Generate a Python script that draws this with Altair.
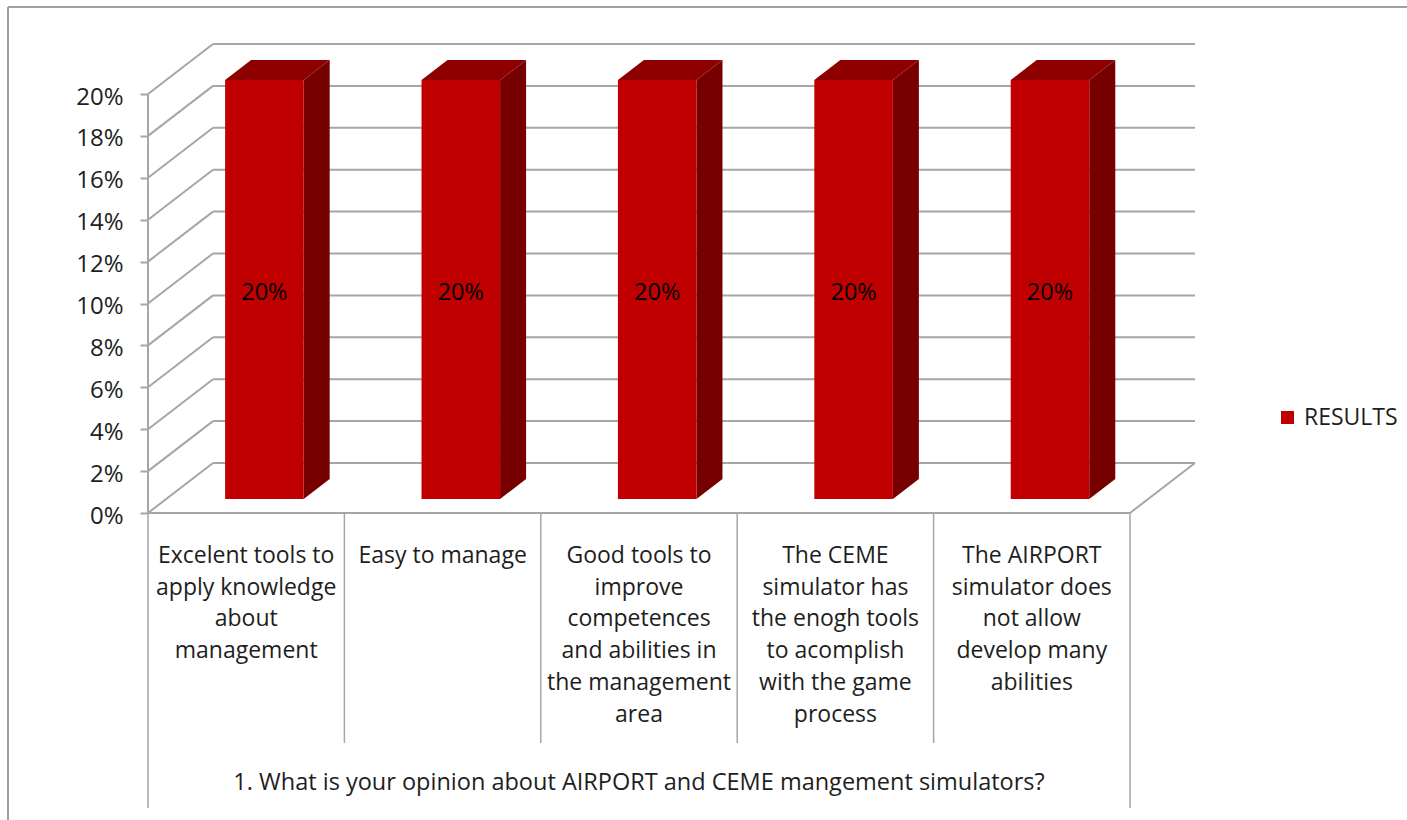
import altair as alt
import pandas as pd

# ---------------- data ----------------
categories = [
    "Excelent tools to\napply knowledge\nabout\nmanagement",
    "Easy to manage",
    "Good tools to\nimprove\ncompetences\nand abilities in\nthe management\narea",
    "The CEME\nsimulator has\nthe enogh tools\nto acomplish\nwith the game\nprocess",
    "The AIRPORT\nsimulator does\nnot allow\ndevelop many\nabilities",
]
values = [20, 20, 20, 20, 20]
series_name = "RESULTS"
y_ticks = [0, 2, 4, 6, 8, 10, 12, 14, 16, 18, 20]
axis_title = "1. What is your opinion about AIRPORT and CEME mangement simulators?"

# ---------------- geometry (data units) ----------------
N = len(categories)
PX_X = 196.4
PX_Y = 20.95
W, H = 1047, 469
XMAX = W / PX_X
YMAX = H / PX_Y
DX = 65 / PX_X
DY = 50 / PX_Y
F1, F2 = 0.28, 0.68
HALF = 0.2

FONT = "Open Sans"
FS_CAT = 23
FS_BIG = 23.5
GRAY = "#A6A6A6"
TXT = "#1e1e1e"

xs = alt.Scale(domain=[0, XMAX], nice=False, zero=False)
ys = alt.Scale(domain=[0, YMAX], nice=False, zero=False)

rows = []
for v in y_ticks:
    rows.append(dict(x=0, y=v, x2=DX, y2=v + DY))
    rows.append(dict(x=DX, y=v + DY, x2=N + DX, y2=v + DY))
rows.append(dict(x=0, y=0, x2=N, y2=0))
rows.append(dict(x=N, y=0, x2=N + DX, y2=DY))
rows.append(dict(x=0, y=0, x2=0, y2=max(y_ticks)))
walls = pd.DataFrame(rows)

front, side, top, lab = [], [], [], []
for i, (c, v) in enumerate(zip(categories, values)):
    xl = i + 0.5 - HALF
    xr = i + 0.5 + HALF
    front.append(dict(x=xl + F1 * DX, x2=xr + F1 * DX, y=F1 * DY, y2=v + F1 * DY, s=series_name))
    for f in (F1, F2):
        side.append(dict(b=i, x=xr + f * DX, y=f * DY, y2=v + f * DY))
        top.append(dict(b=i, y=v + f * DY, x=xl + f * DX, x2=xr + f * DX))
    lab.append(dict(x=i + 0.5 + F1 * DX, y=v / 2 + F1 * DY - 0.15, t=f"{v}%"))
front, side, top, lab = map(pd.DataFrame, (front, side, top, lab))

Y_LAB = -(545 - 513) / PX_Y
cat_df = pd.DataFrame({"x": [i + 0.5 for i in range(N)], "y": [Y_LAB] * N, "t": categories})

Y_IN = -(743 - 513) / PX_Y
Y_OUT = -(808 - 513) / PX_Y
div = pd.DataFrame({"x": list(range(N + 1)),
                    "y": [0] * (N + 1),
                    "y2": [Y_OUT] + [Y_IN] * (N - 1) + [Y_OUT]})

title_df = pd.DataFrame({"x": [N / 2], "y": [-(783 - 513) / PX_Y], "t": [axis_title]})

FX = (8 - 148) / PX_X
FY = (513 - 7) / PX_Y
frame = pd.DataFrame([
    dict(x=FX, y=FY, x2=(1407 - 148) / PX_X, y2=FY),
    dict(x=FX, y=FY, x2=FX, y2=-(820 - 513) / PX_Y),
])

yaxis = alt.Axis(
    values=y_ticks, labelExpr="datum.value + '%'", title=None,
    domain=False, grid=False, ticks=True, tickSize=8, tickWidth=2, tickColor=GRAY,
    labelFont=FONT, labelFontSize=24, labelColor=TXT, labelPadding=17, labelOffset=3,
)

def X(f="x"):
    return alt.X(f"{f}:Q", scale=xs, axis=None)

def Y(f="y"):
    return alt.Y(f"{f}:Q", scale=ys, axis=yaxis)

wall_layer = alt.Chart(walls).mark_rule(color=GRAY, strokeWidth=2).encode(
    x=X(), y=Y(), x2="x2:Q", y2="y2:Q",
)

frame_layer = alt.Chart(frame).mark_rule(color="#A0A0A0", strokeWidth=2).encode(
    x=X(), y=Y(), x2="x2:Q", y2="y2:Q",
)

div_layer = alt.Chart(div).mark_rule(color=GRAY, strokeWidth=1.5).encode(
    x=X(), y=Y(), y2="y2:Q",
)

front_layer = alt.Chart(front).mark_rect().encode(
    x=X(), x2="x2:Q", y=Y(), y2="y2:Q",
    color=alt.Color("s:N", scale=alt.Scale(domain=[series_name], range=["#C00000"]),
                    legend=alt.Legend(orient="none", legendX=1128, legendY=362, title=None,
                                      symbolType="square", symbolSize=169, symbolStrokeWidth=0,
                                      labelFont=FONT, labelFontSize=FS_CAT, labelColor=TXT,
                                      labelOffset=5, padding=0)),
)

side_layer = alt.Chart(side).mark_area(color="#760000").encode(
    x=X(), y=Y(), y2="y2:Q", detail="b:N",
)

top_layer = alt.Chart(top).mark_area(color="#8E0000", orient="horizontal").encode(
    y=Y(), x=X(), x2="x2:Q", detail="b:N",
)

bar_text = alt.Chart(lab).mark_text(font=FONT, fontSize=FS_BIG, color="#000000").encode(
    x=X(), y=Y(), text="t:N",
)

cat_text = alt.Chart(cat_df).mark_text(font=FONT, fontSize=FS_CAT, color=TXT, lineBreak="\n",
                                       lineHeight=31.7, baseline="top", align="center").encode(
    x=X(), y=Y(), text="t:N",
)

title_text = alt.Chart(title_df).mark_text(font=FONT, fontSize=FS_BIG, color=TXT).encode(
    x=X(), y=Y(), text="t:N",
)

chart = alt.layer(
    frame_layer, wall_layer, div_layer,
    side_layer, top_layer, front_layer, bar_text, cat_text, title_text,
).properties(
    width=W, height=H,
    autosize=alt.AutoSizeParams(type="none"),
    padding={"left": 148, "top": 44, "right": 212, "bottom": 307},
    background="white",
).configure_view(stroke=None)

chart.save("out.html", embed_options={"renderer": "svg", "actions": False})
